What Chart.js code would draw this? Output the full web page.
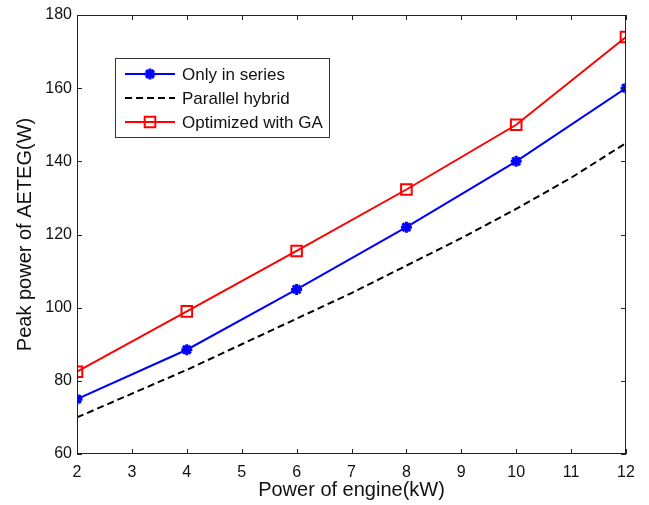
<!DOCTYPE html>
<html>
<head>
<meta charset="utf-8">
<script src="https://cdn.jsdelivr.net/npm/chart.js@4.4.0/dist/chart.umd.min.js"></script>
<style>
  body { margin: 0; background: #fff; }
  #wrap { width: 649px; height: 505px; }
</style>
</head>
<body>
<div id="wrap"><canvas id="c" width="649" height="505"></canvas></div>
<script>
// values
var evenPower = [2, 4, 6, 8, 10, 12];
var onlySeries = [75, 88.5, 105, 122, 140, 160];
var optimizedGA = [82.5, 99, 115.5, 132.3, 150, 174];
var allPower = [2, 3, 4, 5, 6, 7, 8, 9, 10, 11, 12];
var parallelHybrid = [70, 76.5, 83, 90, 97, 104, 111.5, 119, 127, 135.5, 145];
var xTicks = [2, 3, 4, 5, 6, 7, 8, 9, 10, 11, 12];
var yTicks = [60, 80, 100, 120, 140, 160, 180];

function pts(xs, ys) {
    var out = [];
    for (var i = 0; i < xs.length; i++) out.push({x: xs[i], y: ys[i]});
    return out;
}

var FONT = 'Liberation Sans, Arial, sans-serif';

// matlab style box with inward ticks + legend inside the plot
var frame = {
    id: 'frame',
    afterDatasetsDraw: function(chart) {
        var ctx = chart.ctx, a = chart.chartArea;
        var xs = chart.scales.x, ys = chart.scales.y;
        ctx.save();
        ctx.strokeStyle = '#222';
        ctx.lineWidth = 1;
        ctx.strokeRect(a.left + 0.5, a.top + 0.5, a.right - a.left - 1, a.bottom - a.top - 1);
        ctx.beginPath();
        xTicks.forEach(function(v) {
            var px = Math.round(xs.getPixelForValue(v)) + 0.5;
            ctx.moveTo(px, a.bottom); ctx.lineTo(px, a.bottom - 5);
            ctx.moveTo(px, a.top); ctx.lineTo(px, a.top + 5);
        });
        yTicks.forEach(function(v) {
            var py = Math.round(ys.getPixelForValue(v)) + 0.5;
            ctx.moveTo(a.left, py); ctx.lineTo(a.left + 5, py);
            ctx.moveTo(a.right, py); ctx.lineTo(a.right - 5, py);
        });
        ctx.stroke();

        // legend
        var lx = 115, ly = 58, lw = 214, lh = 79;
        ctx.fillStyle = '#fff';
        ctx.fillRect(lx, ly, lw, lh);
        ctx.strokeStyle = '#333';
        ctx.strokeRect(lx + 0.5, ly + 0.5, lw, lh);
        ctx.font = '17px ' + FONT;
        ctx.textBaseline = 'middle';
        [0, 1, 2].forEach(function(i) {
            var ds = chart.data.datasets[i];
            var y = ly + 16 + i * 24;
            ctx.strokeStyle = ds.borderColor;
            ctx.lineWidth = 2;
            ctx.setLineDash(ds.borderDash || []);
            ctx.beginPath();
            ctx.moveTo(lx + 10, y); ctx.lineTo(lx + 60, y);
            ctx.stroke();
            ctx.setLineDash([]);
            if (ds.pointRadius > 0) {
                ctx.fillStyle = ds.pointBackgroundColor;
                ctx.strokeStyle = ds.borderColor;
                ctx.lineWidth = ds.pointBorderWidth;
                Chart.helpers.drawPoint(ctx, {
                    pointStyle: ds.pointStyle, radius: ds.pointRadius, borderWidth: ds.pointBorderWidth
                }, lx + 35, y);
            }
            ctx.fillStyle = '#111';
            ctx.fillText(ds.label, lx + 67, y + 1);
        });
        ctx.restore();
    }
};

new Chart(document.getElementById('c'), {
    type: 'line',
    data: {
        datasets: [
            {
                label: 'Only in series',
                data: pts(evenPower, onlySeries),
                borderColor: '#0000ff',
                backgroundColor: '#0000ff',
                pointBackgroundColor: '#0000ff',
                borderWidth: 2,
                pointStyle: 'star',
                pointRadius: 5.5,
                pointBorderWidth: 3,
                order: 2
            },
            {
                label: 'Parallel hybrid',
                data: pts(allPower, parallelHybrid),
                borderColor: '#000000',
                borderWidth: 2,
                borderDash: [7, 4],
                pointRadius: 0,
                order: 3
            },
            {
                label: 'Optimized with GA',
                data: pts(evenPower, optimizedGA),
                borderColor: '#ff0000',
                backgroundColor: '#fff',
                pointBackgroundColor: 'rgba(255,255,255,0)',
                borderWidth: 2,
                pointStyle: 'rect',
                pointRadius: 7.5,
                pointBorderWidth: 2,
                order: 1
            }
        ]
    },
    options: {
        responsive: false,
        animation: false,
        layout: { padding: { top: 15, right: 23, left: 0, bottom: 0 } },
        plugins: { legend: { display: false }, tooltip: { enabled: false } },
        scales: {
            x: {
                type: 'linear',
                min: 2, max: 12,
                afterFit: function(s) { s.height = 51; },
                afterBuildTicks: function(s) { s.ticks = xTicks.map(function(v) { return {value: v}; }); },
                grid: { display: false, drawTicks: false },
                border: { display: false },
                ticks: { color: '#111', font: { family: FONT, size: 16 }, padding: 9, maxRotation: 0 },
                title: { display: true, text: 'Power of engine(kW)', color: '#111', font: { family: FONT, size: 20 }, padding: { top: 4, bottom: 3 } }
            },
            y: {
                min: 60, max: 180,
                afterFit: function(s) { s.width = 77; },
                afterBuildTicks: function(s) { s.ticks = yTicks.map(function(v) { return {value: v}; }); },
                grid: { display: false, drawTicks: false },
                border: { display: false },
                ticks: { color: '#111', font: { family: FONT, size: 16 }, padding: 5 },
                title: { display: true, text: 'Peak power of AETEG(W)', color: '#111', font: { family: FONT, size: 20 }, padding: { top: 13, bottom: 4 } }
            }
        }
    },
    plugins: [frame]
});
</script>
</body>
</html>
